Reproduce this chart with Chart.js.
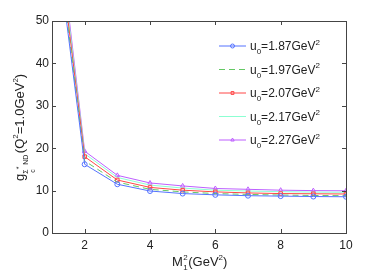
<!DOCTYPE html>
<html>
<head>
<meta charset="utf-8">
<script src="https://cdn.jsdelivr.net/npm/chart.js@4/dist/chart.umd.min.js"></script>
<style>
  html, body { margin: 0; padding: 0; background: #fff; }
  #wrap { width: 382px; height: 273px; }
</style>
</head>
<body>
<div id="wrap"><canvas id="chart" width="382" height="273"></canvas></div>
<script>
// M1^2 values (GeV^2)
const m2 = [1, 2, 3, 4, 5, 6, 7, 8, 9, 10];
const u0Labels = ['1.87', '1.97', '2.07', '2.17', '2.27'];
const g187 = [77, 16.2, 11.5, 9.9, 9.3, 9.0, 8.8, 8.7, 8.6, 8.55];
const g197 = [79, 17.0, 12.0, 10.3, 9.7, 9.3, 9.1, 8.95, 8.85, 8.8];
const g207 = [81, 18.0, 12.5, 10.75, 10.1, 9.7, 9.45, 9.3, 9.25, 9.2];
const g217 = [83, 18.7, 13.1, 11.3, 10.6, 10.1, 9.9, 9.75, 9.65, 9.6];
const g227 = [85, 19.3, 13.6, 11.8, 11.1, 10.5, 10.3, 10.1, 10.0, 9.95];
const xTicks = [2, 4, 6, 8, 10];
const yTicks = [0, 10, 20, 30, 40, 50];

const FONT = "'Liberation Sans', Arial, sans-serif";

function pts(vals) {
  return m2.map((x, i) => ({ x: x, y: vals[i] }));
}

const styles = [
  { color: 'rgb(85,115,255)', marker: 'circle', dash: [] },
  { color: 'rgb(100,200,100)', marker: false, dash: [6, 4] },
  { color: 'rgb(255,70,70)', marker: 'rect', dash: [] },
  { color: 'rgb(140,255,210)', marker: false, dash: [] },
  { color: 'rgb(190,95,255)', marker: 'triangle', dash: [] }
];
const series = [g187, g197, g207, g217, g227];

const datasets = series.map((s, i) => ({
  label: u0Labels[i],
  data: pts(s),
  borderColor: styles[i].color,
  backgroundColor: 'rgba(0,0,0,0)',
  borderWidth: 1,
  borderDash: styles[i].dash,
  pointStyle: styles[i].marker,
  pointRadius: styles[i].marker ? 2.5 : 0,
  pointBorderColor: styles[i].color,
  pointBackgroundColor: 'rgba(0,0,0,0)',
  pointBorderWidth: 1,
  tension: 0
}));

// draws text with sub/superscripts, returns end x
function drawSubSup(ctx, x, y, parts, size) {
  parts.forEach(p => {
    ctx.font = (p.small ? Math.round(size * 0.65) : size) + 'px ' + FONT;
    const dy = p.sub ? size * 0.35 : (p.sup ? -size * 0.45 : 0);
    ctx.fillText(p.t, x, y + dy);
    x += ctx.measureText(p.t).width;
  });
  return x;
}

const framePlugin = {
  id: 'frame',
  afterDraw(chart) {
    const ctx = chart.ctx;
    const a = chart.chartArea;
    const xs = chart.scales.x, ys = chart.scales.y;
    ctx.save();
    ctx.strokeStyle = '#444';
    ctx.lineWidth = 1;
    ctx.strokeRect(Math.round(a.left) + 0.5, Math.round(a.top) + 0.5,
      Math.round(a.right - a.left), Math.round(a.bottom - a.top));
    // inward ticks on all sides
    ctx.beginPath();
    xTicks.forEach(v => {
      const px = Math.round(xs.getPixelForValue(v)) + 0.5;
      ctx.moveTo(px, a.bottom); ctx.lineTo(px, a.bottom - 4);
      ctx.moveTo(px, a.top); ctx.lineTo(px, a.top + 4);
    });
    yTicks.forEach(v => {
      const py = Math.round(ys.getPixelForValue(v)) + 0.5;
      ctx.moveTo(a.left, py); ctx.lineTo(a.left + 4, py);
      ctx.moveTo(a.right, py); ctx.lineTo(a.right - 4, py);
    });
    ctx.stroke();

    // axis titles
    ctx.fillStyle = '#222';
    ctx.textBaseline = 'alphabetic';
    ctx.textAlign = 'left';
    let x = 172;
    x = drawSubSup(ctx, x, 266, [{ t: 'M' }], 13);
    ctx.font = '8px ' + FONT;
    ctx.fillText('2', x + 0.5, 260);
    ctx.fillText('1', x + 0.5, 270);
    x += ctx.measureText('2').width + 1;
    drawSubSup(ctx, x, 266, [{ t: '(GeV' }, { t: '2', small: true, sup: true }, { t: ')' }], 13);

    ctx.save();
    ctx.translate(24, 181);
    ctx.rotate(-Math.PI / 2);
    let t = 0;
    ctx.font = '13px ' + FONT;
    ctx.fillText('g', t, 0);
    t += ctx.measureText('g').width;
    ctx.font = '7px ' + FONT;
    ctx.fillText('\u03A3', t, 4);
    ctx.fillText('*', t + 4.5, -3);
    ctx.fillText('c', t + 1, 11);
    t += 9;
    ctx.fillText('ND', t, 4);
    t += ctx.measureText('ND').width + 1.5;
    drawSubSup(ctx, t, 0, [{ t: '(Q' }, { t: '2', small: true, sup: true }, { t: '=1.0GeV' },
      { t: '2', small: true, sup: true }, { t: ')' }], 13);
    ctx.restore();

    // legend
    chart.data.datasets.forEach((ds, i) => {
      const ly = 46 + i * 23.5;
      ctx.strokeStyle = ds.borderColor;
      ctx.setLineDash(ds.borderDash);
      ctx.beginPath();
      ctx.moveTo(219, ly); ctx.lineTo(246, ly);
      ctx.stroke();
      ctx.setLineDash([]);
      if (ds.pointStyle) {
        ctx.fillStyle = 'rgba(0,0,0,0)';
        Chart.helpers.drawPoint(ctx, {
          pointStyle: ds.pointStyle, radius: 2, rotation: 0, borderWidth: 1
        }, 232.5, ly);
      }
      ctx.fillStyle = '#222';
      drawSubSup(ctx, 250, ly + 4, [{ t: 'u' }, { t: '0', small: true, sub: true },
        { t: '=' + ds.label + 'GeV' }, { t: '2', small: true, sup: true }], 12);
    });
    ctx.restore();
  }
};

new Chart(document.getElementById('chart').getContext('2d'), {
  type: 'line',
  data: { datasets: datasets },
  plugins: [framePlugin],
  options: {
    responsive: false,
    animation: false,
    layout: { padding: { top: 21, right: 36, left: 0, bottom: 0 } },
    plugins: { legend: { display: false }, tooltip: { enabled: false } },
    scales: {
      x: {
        type: 'linear', min: 1, max: 10,
        afterBuildTicks: s => { s.ticks = xTicks.map(v => ({ value: v })); },
        afterFit: s => { s.height = 40; },
        grid: { display: false, drawTicks: false },
        border: { display: false },
        ticks: { color: '#222', font: { family: FONT, size: 12 }, padding: 5, maxRotation: 0 }
      },
      y: {
        min: 0, max: 50,
        afterBuildTicks: s => { s.ticks = yTicks.map(v => ({ value: v })); },
        afterFit: s => { s.width = 52; },
        grid: { display: false, drawTicks: false },
        border: { display: false },
        ticks: { color: '#222', font: { family: FONT, size: 12 }, padding: 3 }
      }
    }
  }
});
</script>
</body>
</html>
